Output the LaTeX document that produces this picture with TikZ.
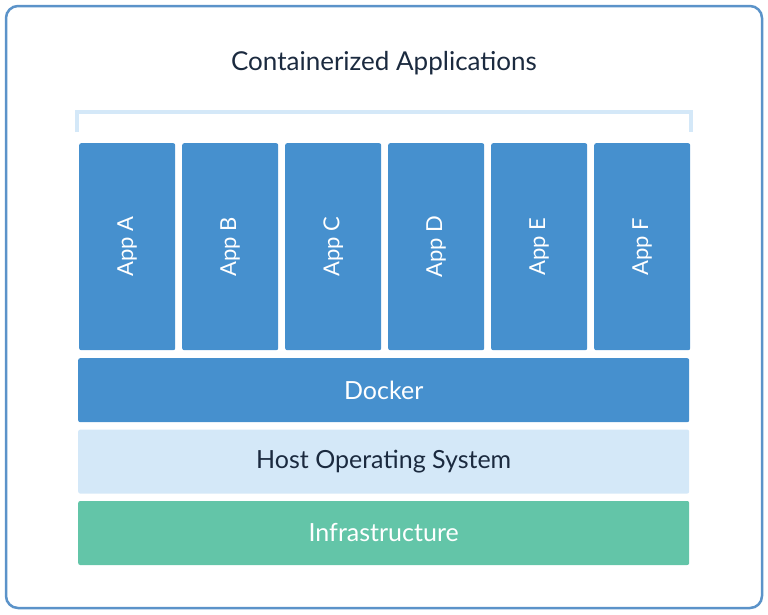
\documentclass[tikz,border=0pt]{standalone}
\usepackage{fontspec}
\setmainfont{Lato}
\usetikzlibrary{positioning}

\begin{document}
\begin{tikzpicture}[x=1pt, y=-1pt, line cap=round,
    %Style
    layer/.style={rounded corners=2pt, minimum width=611pt, minimum height=64pt,
      inner sep=0pt, font=\fontsize{25}{30}\selectfont},
    app box/.style={rounded corners=2pt, fill=appcolor, minimum width=96pt,
      minimum height=207pt, inner sep=0pt, text=white,
      font=\fontsize{22}{26}\selectfont}]
    %Colors
    \definecolor{framecolor}{HTML}{5B93C9}
    \definecolor{appcolor}{HTML}{4690CE}
    \definecolor{hostcolor}{HTML}{D4E8F8}
    \definecolor{infracolor}{HTML}{63C5A8}
    \definecolor{textcolor}{HTML}{1B2A3F}
    \useasboundingbox (0,0) rectangle (768,614);
    %The frame
    \draw[framecolor, line width=2.5pt, rounded corners=12pt] (6,6) rectangle (762,608);
    \node[text=textcolor, font=\fontsize{26}{31}\selectfont] (title) at (384,63)
      {Containerized Applications};
    %The bracket
    \draw[hostcolor, line width=4pt, line cap=butt] (77,132) -- (77,112) -- (691,112) -- (691,132);
    %The apps
    \foreach \name [count=\i from 0] in {A,B,C,D,E,F}
      \node[app box, anchor=north west] (app\name) at (79+\i*103,143)
        {\rotatebox{90}{App \name}};
    %The layers
    \node[layer, fill=appcolor, text=white, anchor=north west] (docker) at (78,358) {Docker};
    \node[layer, fill=hostcolor, text=textcolor, below=7pt of docker] (host) {Host Operating System};
    \node[layer, fill=infracolor, text=white, below=7pt of host] (infra) {Infrastructure};
\end{tikzpicture}
\end{document}
